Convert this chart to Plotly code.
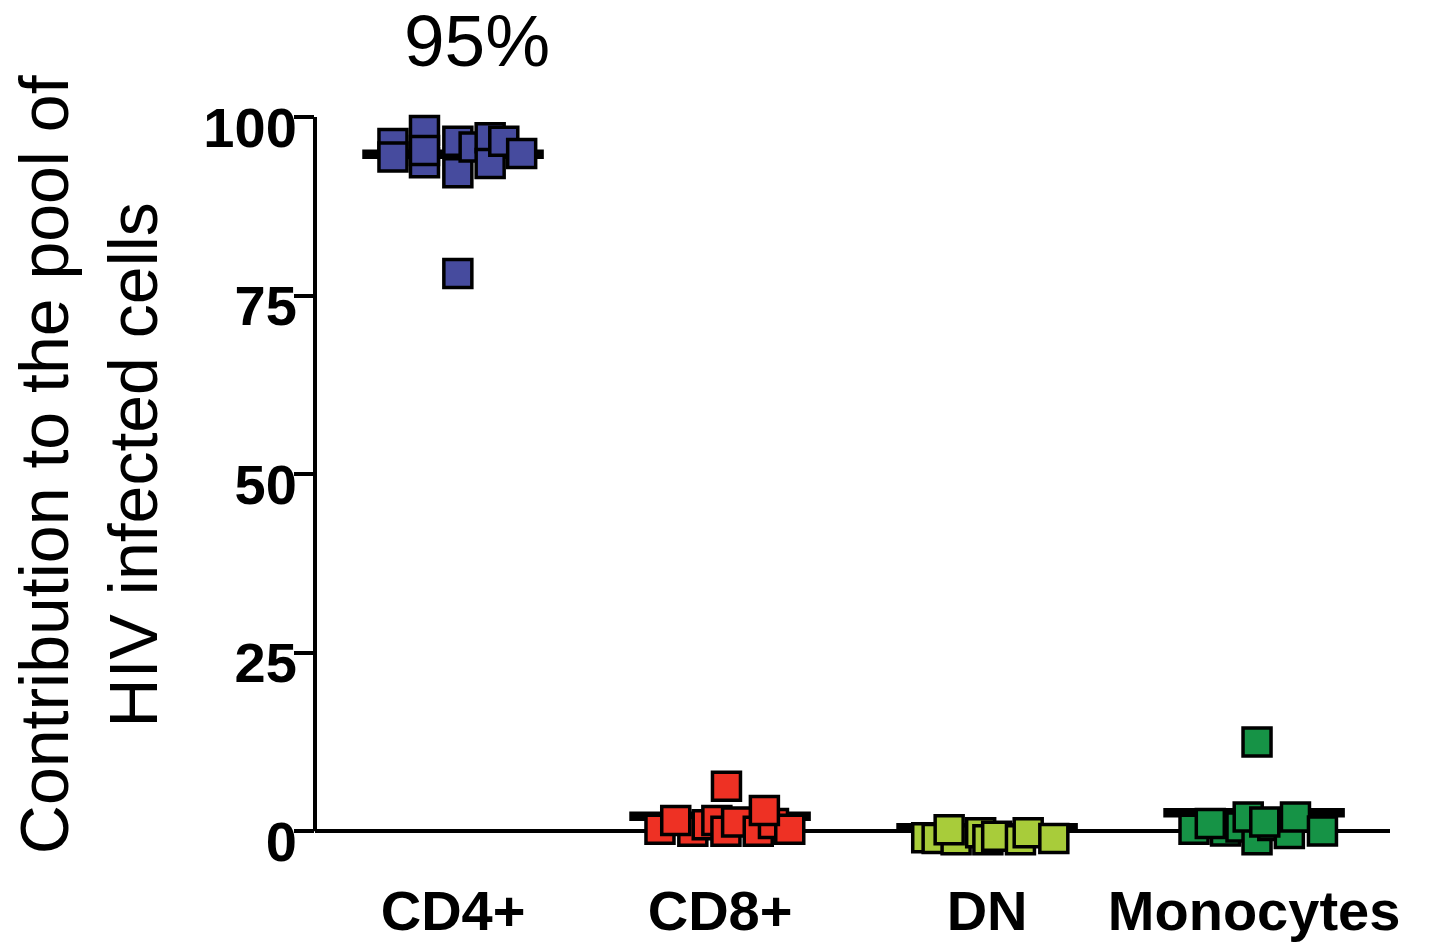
import plotly.graph_objects as go

# ---------------- data ----------------
categories = ["CD4+", "CD8+", "DN", "Monocytes"]
colors = ["#464B9E", "#EE3124", "#A8CC3A", "#169346"]

# per-category values (%) and horizontal spread of each point (in category units)
cd4_values = [96.3, 94.4, 98.1, 93.6, 95.3, 96.6, 92.2, 95.8, 97.1, 93.5, 96.6, 94.9, 78.1]
cd4_spread = [-0.225, -0.225, -0.107, -0.107, -0.107, 0.018, 0.018, 0.079, 0.139, 0.139, 0.19, 0.257, 0.018]

cd8_values = [0.3, 0.0, 1.5, 0.9, 1.5, 0.0, 1.3, 0.0, 1.1, 0.3, 2.9, 6.3]
cd8_spread = [-0.225, -0.102, -0.166, -0.048, -0.012, 0.022, 0.062, 0.143, 0.2, 0.261, 0.166, 0.024]

dn_values = [-0.9, -1.0, -1.2, 0.2, -0.2, -1.2, -0.7, -1.2, -0.2, -1.0]
dn_spread = [-0.226, -0.187, -0.116, -0.142, -0.024, 0.003, 0.036, 0.125, 0.154, 0.25]

mono_values = [0.3, 0.05, 1.1, 0.6, -1.2, 0.8, 2.0, -0.3, 2.0, 0.05, 1.3, 12.5]
mono_spread = [-0.225, -0.107, -0.164, -0.049, 0.011, 0.07, -0.022, 0.132, 0.155, 0.256, 0.04, 0.011]

medians = [94.8, 2.1, 0.5, 2.6]
median_halfwidth = 0.34

all_values = [cd4_values, cd8_values, dn_values, mono_values]
all_spread = [cd4_spread, cd8_spread, dn_spread, mono_spread]

y_ticks = [0, 25, 50, 75, 100]
y_min, y_max = -1.5, 100
top_label = "95%"
y_title = "Contribution to the pool of<br>HIV infected cells"

FONT = "Liberation Sans, Arial, Helvetica, sans-serif"

fig = go.Figure()

# median bars (behind points)
mx, my = [], []
for i, m in enumerate(medians):
    mx += [i - median_halfwidth, i + median_halfwidth, None]
    my += [m, m, None]
fig.add_trace(go.Scatter(x=mx, y=my, mode="lines",
                         line=dict(color="black", width=9.5),
                         hoverinfo="skip", showlegend=False, cliponaxis=False))

for i, (vals, spread) in enumerate(zip(all_values, all_spread)):
    fig.add_trace(go.Scatter(
        x=[i + s for s in spread], y=vals, mode="markers",
        marker=dict(symbol="square", size=28, color=colors[i],
                    line=dict(color="black", width=3.5)),
        name=categories[i], showlegend=False, cliponaxis=False))

fig.update_layout(
    width=1432, height=947,
    margin=dict(l=315, r=42, t=117, b=105),
    plot_bgcolor="white", paper_bgcolor="white",
    font=dict(family=FONT, color="black"),
    xaxis=dict(
        range=[-0.517, 3.509], tickmode="array",
        tickvals=list(range(len(categories))), ticktext=categories,
        showgrid=False, zeroline=False, showline=False, ticks="",
        tickfont=dict(family=FONT, size=56, color="black", weight="bold"),
        ticklabelstandoff=31, automargin=False,
    ),
    yaxis=dict(
        range=[y_min, y_max], tickmode="array", tickvals=y_ticks,
        showgrid=False, showline=False,
        zeroline=True, zerolinecolor="black", zerolinewidth=4,
        ticks="outside", ticklen=20, tickwidth=4, tickcolor="black",
        tickfont=dict(family=FONT, size=56, color="black", weight="bold"),
        ticklabelstandoff=-14, ticklabelshift=10, automargin=False,
    ),
    shapes=[
        # vertical axis line, from 0 to the top of the scale
        dict(type="line", xref="paper", yref="y", x0=0, x1=0, y0=0, y1=y_max,
             line=dict(color="black", width=4), layer="above"),
    ],
    annotations=[
        dict(text=top_label, xref="x", yref="paper", x=0.09, y=1.106,
             xanchor="center", yanchor="middle", showarrow=False,
             font=dict(family=FONT, size=73, color="black")),
        dict(text=y_title, xref="paper", yref="paper", x=-0.211, y=0.52,
             xanchor="center", yanchor="middle", showarrow=False,
             textangle=-90, font=dict(family=FONT, size=68, color="black")),
    ],
)

fig.write_html("out.html")
